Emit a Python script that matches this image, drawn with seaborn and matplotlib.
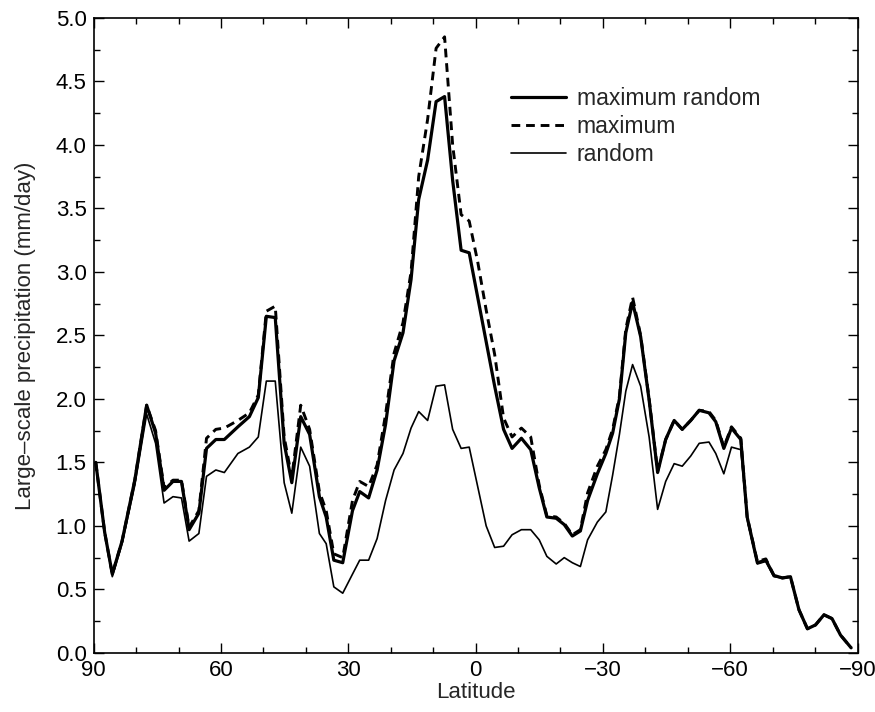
import numpy as np
import pandas as pd
import matplotlib
matplotlib.use("Agg")
import matplotlib.pyplot as plt
from matplotlib.ticker import MultipleLocator
import seaborn as sns

# Latitude (degrees) and large-scale precipitation (mm/day)
latitude = [89.5, 87.4, 85.6, 83.3, 80.3, 77.5, 75.4, 73.4, 71.3, 69.3, 67.5, 65.2,
            63.4, 61.2, 59.2, 56.0, 53.3, 51.2, 49.3, 47.2, 45.1, 43.3, 41.2, 39.1,
            36.8, 35.2, 33.4, 31.3, 29.0, 27.3, 25.2, 23.2, 21.2, 19.2, 17.1, 15.2,
            13.4, 11.3, 9.3, 7.3, 5.4, 3.4, 1.5, -0.5, -2.5, -4.5, -6.6, -8.6,
            -10.8, -13.0, -15.0, -16.8, -19.0, -20.9, -22.8, -24.7, -26.4, -28.7,
            -30.7, -32.3, -33.9, -35.4, -37.0, -38.9, -40.9, -42.9, -44.8, -46.8,
            -48.7, -50.7, -52.7, -55.0, -56.6, -58.5, -60.3, -62.5, -64.0, -66.4,
            -68.4, -70.3, -72.3, -74.2, -76.2, -78.2, -80.1, -82.1, -84.0, -86.0, -88.5]

maximum_random = [1.50, 0.95, 0.62, 0.88, 1.36, 1.95, 1.73, 1.28, 1.35, 1.35, 0.97, 1.10,
                  1.61, 1.68, 1.68, 1.78, 1.86, 2.01, 2.65, 2.64, 1.65, 1.34, 1.86, 1.72,
                  1.23, 1.07, 0.73, 0.71, 1.12, 1.27, 1.22, 1.44, 1.80, 2.30, 2.52, 2.94,
                  3.57, 3.88, 4.34, 4.38, 3.72, 3.17, 3.15, 2.80, 2.45, 2.10, 1.76, 1.61,
                  1.69, 1.60, 1.30, 1.07, 1.06, 1.01, 0.92, 0.96, 1.20, 1.41,
                  1.57, 1.73, 2.00, 2.52, 2.76, 2.49, 1.99, 1.42, 1.68, 1.83,
                  1.76, 1.83, 1.91, 1.89, 1.82, 1.61, 1.77, 1.68, 1.07, 0.71,
                  0.73, 0.61, 0.59, 0.60, 0.34, 0.19, 0.22, 0.30, 0.27, 0.14, 0.04]

maximum = [1.50, 0.95, 0.62, 0.88, 1.36, 1.95, 1.75, 1.30, 1.36, 1.36, 0.99, 1.12,
           1.69, 1.76, 1.77, 1.83, 1.89, 2.03, 2.69, 2.73, 1.70, 1.38, 1.95, 1.76,
           1.27, 1.12, 0.78, 0.75, 1.20, 1.35, 1.31, 1.48, 1.88, 2.36, 2.60, 3.00,
           3.75, 4.20, 4.76, 4.85, 4.00, 3.45, 3.40, 3.08, 2.70, 2.35, 1.85, 1.70,
           1.77, 1.70, 1.32, 1.08, 1.07, 1.02, 0.93, 0.97, 1.26, 1.47,
           1.60, 1.76, 2.02, 2.55, 2.80, 2.50, 2.00, 1.43, 1.68, 1.83,
           1.76, 1.83, 1.91, 1.90, 1.83, 1.62, 1.78, 1.69, 1.07, 0.72,
           0.74, 0.61, 0.59, 0.60, 0.34, 0.19, 0.22, 0.30, 0.27, 0.14, 0.04]

random_ = [1.50, 0.95, 0.60, 0.86, 1.32, 1.88, 1.65, 1.18, 1.23, 1.22, 0.88, 0.94,
           1.39, 1.44, 1.42, 1.57, 1.62, 1.70, 2.14, 2.14, 1.34, 1.10, 1.62, 1.47,
           0.94, 0.86, 0.52, 0.47, 0.62, 0.73, 0.73, 0.90, 1.20, 1.44, 1.57, 1.77,
           1.90, 1.83, 2.10, 2.11, 1.76, 1.61, 1.62, 1.31, 1.00, 0.83, 0.84, 0.93,
           0.97, 0.97, 0.89, 0.76, 0.70, 0.75, 0.71, 0.68, 0.89, 1.03,
           1.11, 1.40, 1.72, 2.06, 2.27, 2.10, 1.70, 1.13, 1.35, 1.49,
           1.47, 1.55, 1.65, 1.66, 1.57, 1.41, 1.62, 1.60, 1.05, 0.70,
           0.72, 0.60, 0.59, 0.60, 0.34, 0.19, 0.22, 0.30, 0.27, 0.14, 0.04]

series_names = ["maximum random", "maximum", "random"]
x_ticks = [90, 60, 30, 0, -30, -60, -90]

df = pd.concat([
    pd.DataFrame({"Latitude": latitude, "value": maximum_random, "series": series_names[0]}),
    pd.DataFrame({"Latitude": latitude, "value": maximum, "series": series_names[1]}),
    pd.DataFrame({"Latitude": latitude, "value": random_, "series": series_names[2]}),
], ignore_index=True)

sns.set_theme(style="ticks")
plt.rcParams["font.family"] = ["Liberation Sans", "DejaVu Sans"]

fig = plt.figure(figsize=(8.75, 7.12), dpi=100)
ax = fig.add_axes([0.107, 0.083, 0.873, 0.892])

styles = {
    "maximum random": dict(lw=2.3, ls="-"),
    "maximum": dict(lw=2.1, ls=(0, (3.0, 2.0))),
    "random": dict(lw=1.2, ls="-"),
}
for name in series_names:
    sub = df[df["series"] == name]
    sns.lineplot(data=sub, x="Latitude", y="value", ax=ax, color="black",
                 sort=False, label=name, linewidth=styles[name]["lw"],
                 linestyle=styles[name]["ls"])

ax.set_xlim(90, -90)
ax.set_ylim(0, 5)
ax.set_xticks(x_ticks)
ax.xaxis.set_minor_locator(MultipleLocator(10))
ax.yaxis.set_major_locator(MultipleLocator(0.5))
ax.yaxis.set_minor_locator(MultipleLocator(0.25))
ax.yaxis.set_major_formatter(matplotlib.ticker.FormatStrFormatter("%.1f"))
ax.tick_params(which="both", direction="in", top=True, right=True, colors="black",
               labelsize=16, width=1.0)
ax.tick_params(which="major", length=7, pad=5)
ax.tick_params(which="minor", length=4)
for sp in ax.spines.values():
    sp.set_linewidth(1.2)
    sp.set_color("black")

ax.set_xlabel("Latitude", fontsize=16, labelpad=1)
ax.set_ylabel("Large–scale precipitation (mm/day)", fontsize=16, labelpad=14)

leg = ax.legend(loc="upper left", bbox_to_anchor=(0.52, 0.923), frameon=False,
                fontsize=16.5, handlelength=2.4, handletextpad=0.45, labelspacing=0.22)

fig.savefig("out.png", dpi=100)
